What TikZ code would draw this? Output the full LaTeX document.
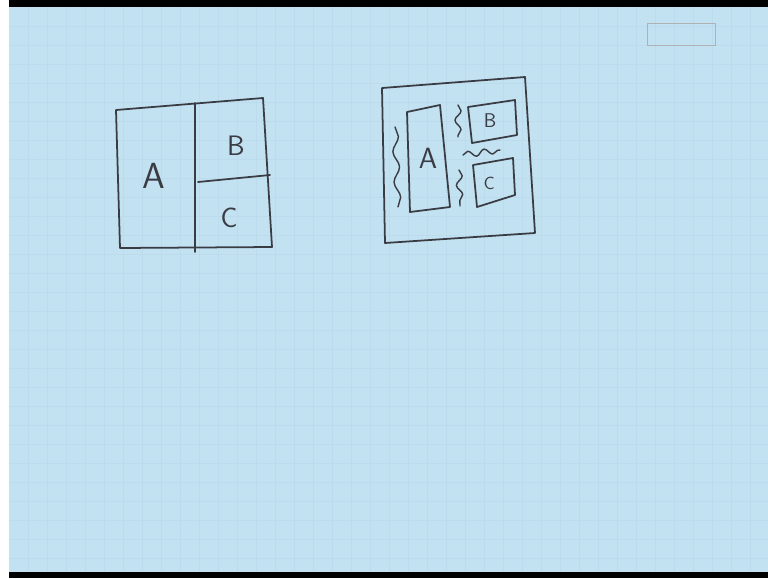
\documentclass[tikz,border=0pt]{standalone}
\usepackage{tikz}
\usetikzlibrary{decorations.pathmorphing}
\definecolor{board}{RGB}{194,225,241}
\definecolor{gridline}{RGB}{188,220,237}
\definecolor{pen}{RGB}{58,60,68}
\tikzset{
  pen/.style={draw=pen,line width=1.5pt,line join=round,line cap=round},
  wave/.style={pen,line width=1.2pt,decorate,decoration={snake,segment length=#1,amplitude=2.6}},
  wave/.default=16,
  letter/.style={text=pen,inner sep=0pt,font=\sffamily}
}
\begin{document}
\begin{tikzpicture}[x=.03cm,y=-.03cm]
\useasboundingbox (0,0) rectangle (768,578);
% board and frame
\fill[white] (0,0) rectangle (768,578);
\fill[board] (9,7) rectangle (768,572);
\foreach \gx in {28,47,...,760} \draw[gridline,line width=.3pt] (\gx,7) -- (\gx,572);
\foreach \gy in {26,45,...,570} \draw[gridline,line width=.3pt] (9,\gy) -- (768,\gy);
\fill[black] (9,0) rectangle (768,7);
\fill[black] (9,572) rectangle (768,578);
\draw[pen!40,line width=.8pt] (647,23) rectangle (715,45);
% left sketch
\begin{scope}
\draw[pen] (116,110) -- (263,98) -- (272,247) -- (120,248) -- cycle;
\draw[pen] (195,103) -- (195,252);
\draw[pen] (198,182) -- (270,175);
\node[letter,font=\sffamily\fontsize{31}{31}\selectfont] (la) at (154,176) {A};
\node[letter,font=\sffamily\fontsize{24}{24}\selectfont] (lb) at (236,146) {B};
\node[letter,font=\sffamily\fontsize{24}{24}\selectfont] (lc) at (229,218) {C};
\end{scope}
% right sketch
\begin{scope}
\draw[pen] (382,88) -- (525,77) -- (535,233) -- (385,243) -- cycle;
\draw[pen] (407,112) -- (440,105) -- (450,207) -- (410,212) -- cycle;
\draw[pen] (468,107) -- (515,100) -- (517,135) -- (472,143) -- cycle;
\draw[pen] (473,165) -- (513,158) -- (515,195) -- (477,207) -- cycle;
\node[letter,font=\sffamily\fontsize{25}{25}\selectfont] (ra) at (428,158) {A};
\node[letter,font=\sffamily\fontsize{17}{17}\selectfont] (rb) at (490,121) {B};
\node[letter,font=\sffamily\fontsize{15}{15}\selectfont] (rc) at (489,183) {C};
\draw[wave=26] (395,127) -- (398,207);
\draw[wave=16] (458,105) -- (458,137);
\draw[wave=16] (459,170) -- (460,206);
\draw[wave=14] (463,155) -- (500,150);
\end{scope}
\end{tikzpicture}
\end{document}
